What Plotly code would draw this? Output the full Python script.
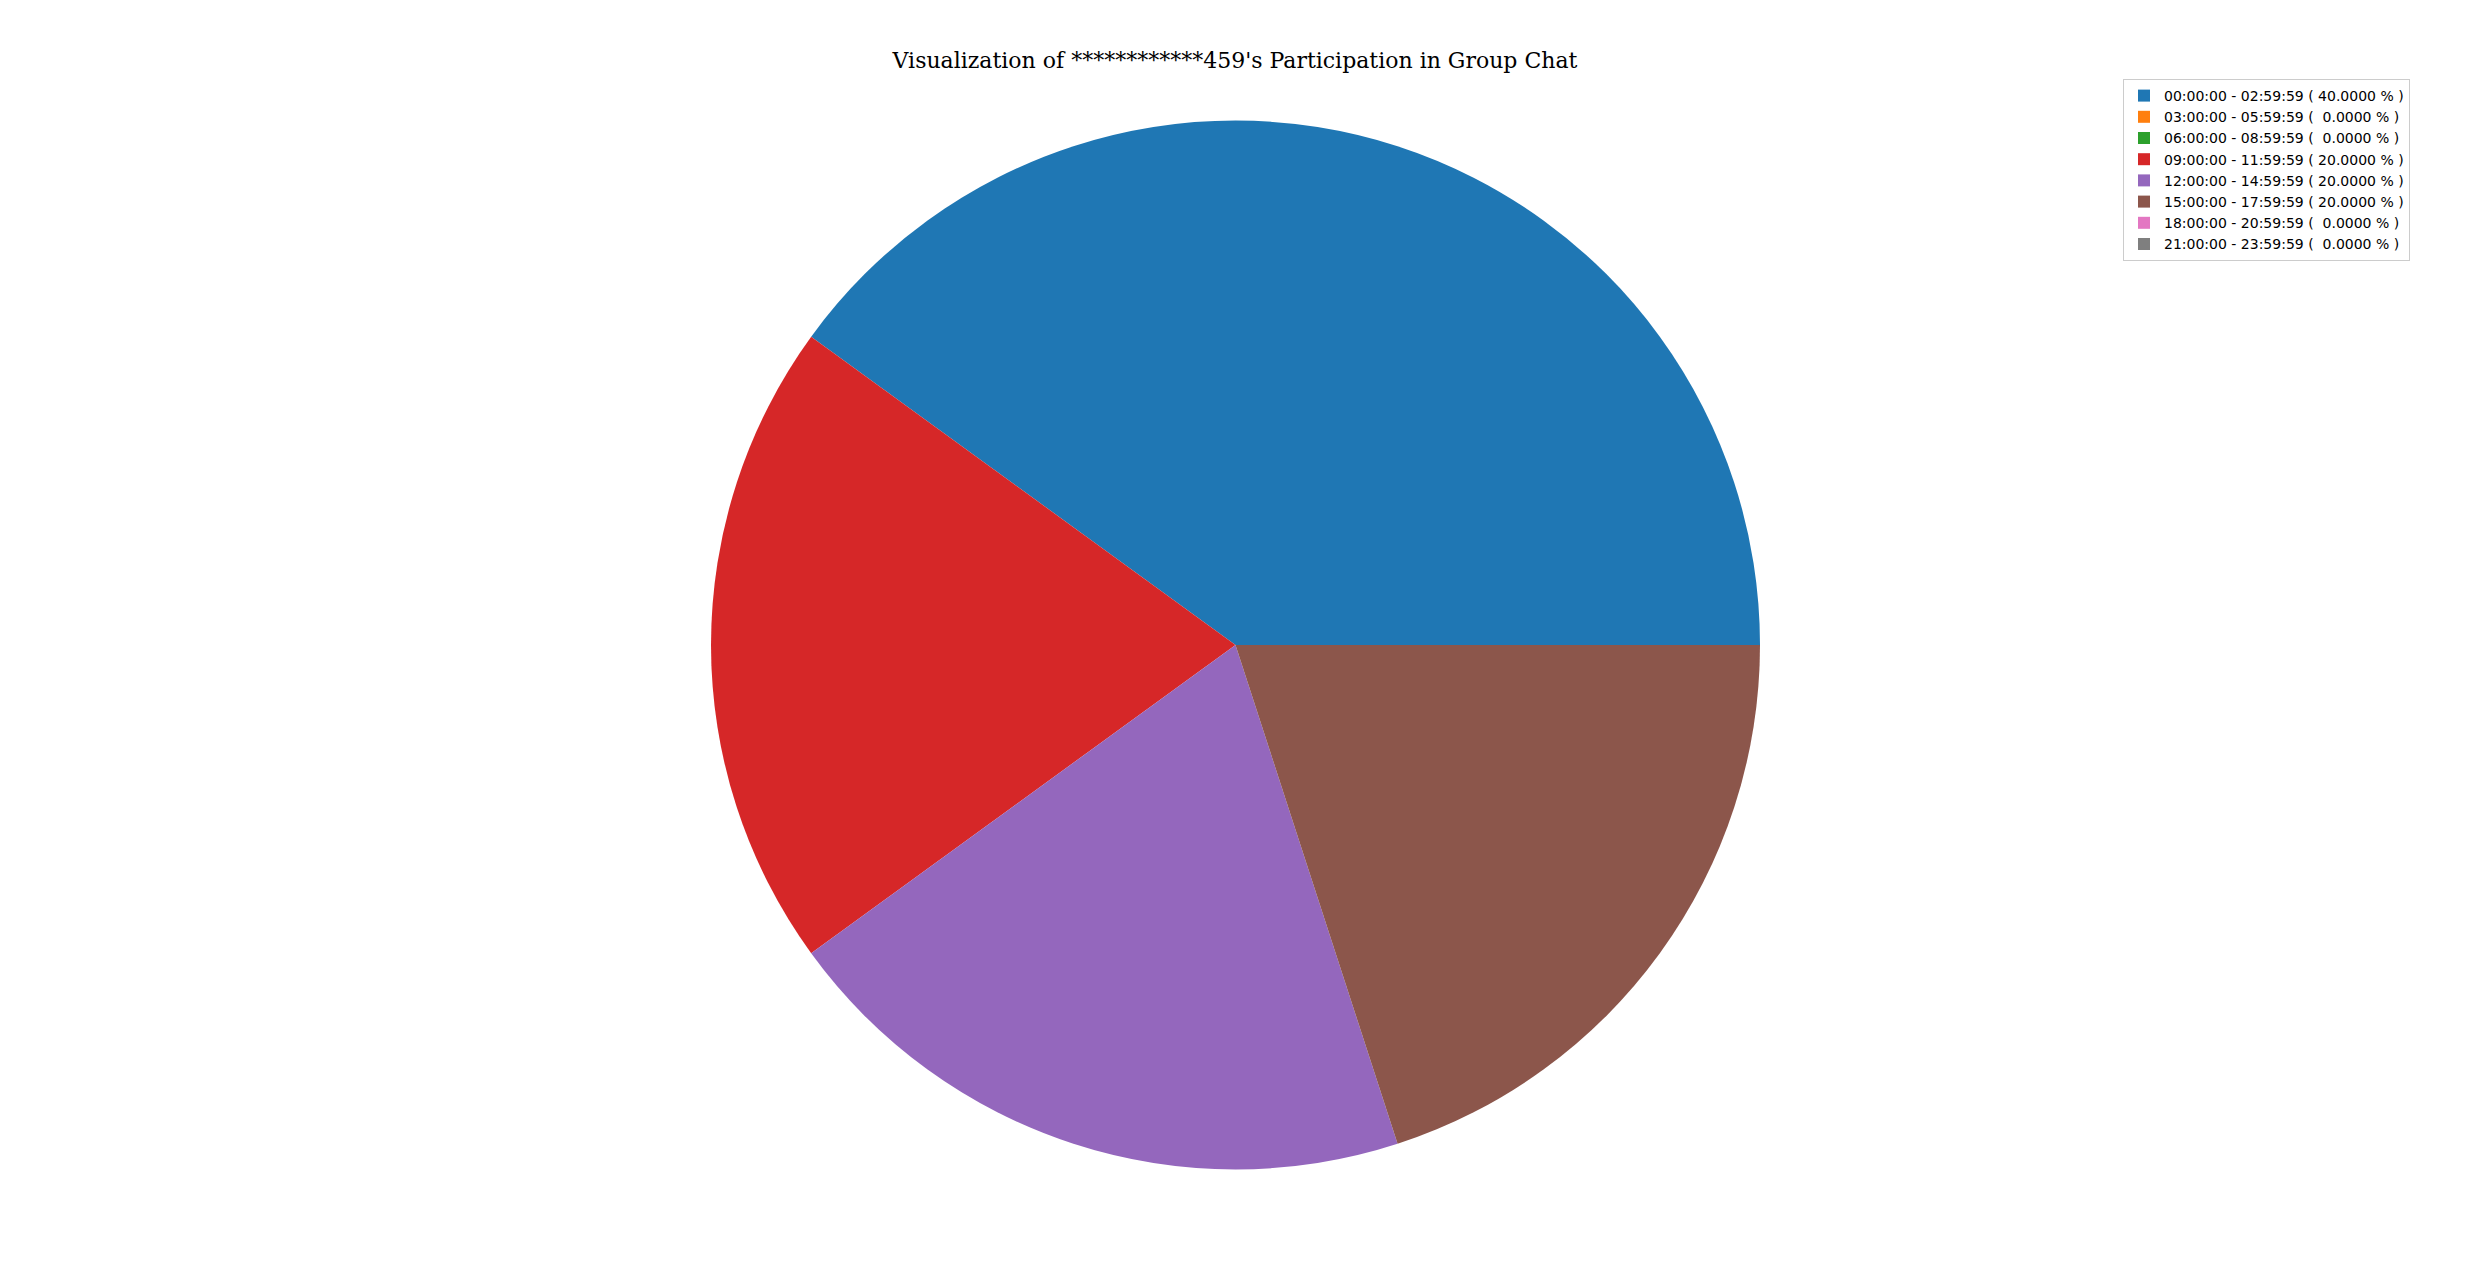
import plotly.graph_objects as go

time_ranges = [
    "00:00:00 - 02:59:59",
    "03:00:00 - 05:59:59",
    "06:00:00 - 08:59:59",
    "09:00:00 - 11:59:59",
    "12:00:00 - 14:59:59",
    "15:00:00 - 17:59:59",
    "18:00:00 - 20:59:59",
    "21:00:00 - 23:59:59",
]
percentages = [40.0, 0.0, 0.0, 20.0, 20.0, 20.0, 0.0, 0.0]
colors = ["#1f77b4", "#ff7f0e", "#2ca02c", "#d62728",
          "#9467bd", "#8c564b", "#e377c2", "#7f7f7f"]
title = "Visualization of ************459's Participation in Group Chat"

# page body has an 8px margin, so the figure is a bit smaller than the window
W, H = 2454, 1254


def main():
    labels = []
    for r, p in zip(time_ranges, percentages):
        pct = "%7.4f" % p
        labels.append("%s ( %s %% )" % (r, pct.replace(" ", "\u00a0")))

    # matplotlib starts at 3 o'clock and runs counterclockwise;
    # plotly's counterclockwise mode puts the END of the first slice at rotation
    first_angle = 360.0 * percentages[0] / sum(percentages)
    rotation = 90 - first_angle

    cx, cy, r = 1227.5, 637, 524.5
    fig = go.Figure(go.Pie(
        labels=labels,
        values=percentages,
        sort=False,
        direction="counterclockwise",
        rotation=rotation,
        textinfo="none",
        hoverinfo="label",
        marker=dict(colors=colors, line=dict(width=0)),
        domain=dict(x=[(cx - r) / W, (cx + r) / W],
                    y=[1 - (cy + r) / H, 1 - (cy - r) / H]),
    ))

    fig.update_layout(
        width=W,
        height=H,
        margin=dict(l=0, r=0, t=0, b=0),
        paper_bgcolor="white",
        plot_bgcolor="white",
        title=dict(text=title, x=0.5, xanchor="center",
                   y=1 - 52 / H, yanchor="middle",
                   font=dict(family="DejaVu Serif", size=22, color="black")),
        legend=dict(
            x=2115 / W, y=1 - 71 / H, xanchor="left", yanchor="top",
            bordercolor="#cccccc", borderwidth=1,
            font=dict(family="DejaVu Sans", size=14, color="black"),
        ),
    )

    fig.write_html("out.html")


if __name__ == '__main__':
    main()
